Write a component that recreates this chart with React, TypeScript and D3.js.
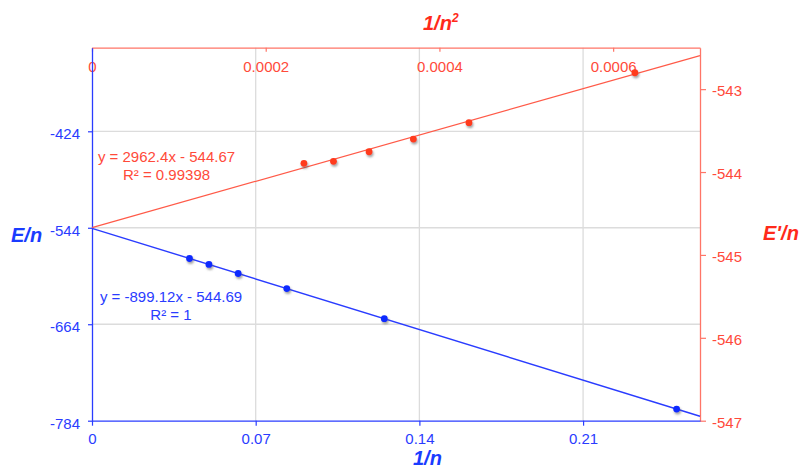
import React, { useEffect, useRef } from "react";
import * as d3 from "d3";

// E/n against 1/n (blue, bottom + left axes)
const invN = [0.0417, 0.05, 0.0625, 0.0833, 0.125, 0.25];
const eOverN = [-582.2, -589.6, -600.9, -619.6, -657.1, -769.5];

// E'/n against 1/n² (red, top + right axes)
const invN2 = [0.000244, 0.000278, 0.000319, 0.00037, 0.000434, 0.000625];
const ePrimeOverN = [-543.895, -543.871, -543.755, -543.602, -543.405, -542.802];

// Linear trend lines
const blueFit = { slope: -899.12, intercept: -544.69, r2: "1" };
const redFit = { slope: 2962.4, intercept: -544.67, r2: "0.99398" };

// Axis ticks
const bottomTicks = [0, 0.07, 0.14, 0.21];
const leftTicks = [-784, -664, -544, -424];
const topTicks = [0, 0.0002, 0.0004, 0.0006];
const rightTicks = [-547, -546, -545, -544, -543];

const W = 800;
const H = 469;
const X0 = 92;
const X1 = 700;
const Y0 = 420.7;
const Y1 = 47.7;

const BLUE = "#2a3cff";
const BLUE_DOT = "#0a2aff";
const RED = "#ff4a3a";
const RED_AXIS = "#ff7567";
const RED_DOT = "#ff3a1e";
const GRID = "#dcdcdc";
const FONT = "'Liberation Sans', Arial, Helvetica, sans-serif";

export default function App() {
  const ref = useRef<SVGSVGElement | null>(null);

  useEffect(() => {
    const svg = d3.select(ref.current);
    svg.selectAll("*").remove();

    const xBottom = d3.scaleLinear().domain([0, 0.26]).range([X0, X1]);
    const xTop = d3.scaleLinear().domain([0, 0.0007]).range([X0, X1]);
    const yLeft = d3.scaleLinear().domain([-784, -320]).range([Y0, Y1]);
    const yRight = d3.scaleLinear().domain([-547, -542.5]).range([Y0, Y1]);

    const defs = svg.append("defs");
    const f = defs
      .append("filter")
      .attr("id", "dotShadow")
      .attr("x", "-100%")
      .attr("y", "-100%")
      .attr("width", "300%")
      .attr("height", "300%");
    f.append("feDropShadow")
      .attr("dx", 1)
      .attr("dy", 2)
      .attr("stdDeviation", 1.3)
      .attr("flood-color", "#555")
      .attr("flood-opacity", 0.55);

    // grid
    const grid = svg.append("g");
    grid
      .selectAll("line.v")
      .data(bottomTicks.filter((d) => d !== 0))
      .join("line")
      .attr("x1", (d) => xBottom(d))
      .attr("x2", (d) => xBottom(d))
      .attr("y1", Y1)
      .attr("y2", Y0)
      .attr("stroke", GRID)
      .attr("stroke-width", 1.3);
    grid
      .selectAll("line.h")
      .data(leftTicks.filter((d) => d !== -784))
      .join("line")
      .attr("x1", X0)
      .attr("x2", X1)
      .attr("y1", (d) => yLeft(d))
      .attr("y2", (d) => yLeft(d))
      .attr("stroke", GRID)
      .attr("stroke-width", 1.3);

    const styleAxis = (g: any, color: string, lineColor: string) => {
      g.select(".domain").attr("stroke", lineColor).attr("stroke-width", 1.3);
      g.selectAll(".tick line").attr("stroke", lineColor).attr("stroke-width", 1.2);
      g.selectAll(".tick text")
        .attr("fill", color)
        .style("font-family", FONT)
        .style("font-size", "15px");
      g.attr("font-family", null).attr("font-size", null);
    };

    // top axis (labels sit inside the plot)
    const gTop = svg
      .append("g")
      .attr("transform", `translate(0,${Y1})`)
      .call(
        d3
          .axisBottom(xTop)
          .tickValues(topTicks)
          .tickSizeInner(4)
          .tickSizeOuter(0)
          .tickPadding(10)
          .tickFormat((d: any) => String(d))
      );
    styleAxis(gTop, RED, RED_AXIS);

    // right axis
    const gRight = svg
      .append("g")
      .attr("transform", `translate(${X1},0)`)
      .call(
        d3
          .axisRight(yRight)
          .tickValues(rightTicks)
          .tickSizeInner(6)
          .tickSizeOuter(0)
          .tickPadding(6)
          .tickFormat((d: any) => String(d))
      );
    styleAxis(gRight, RED, RED_AXIS);
    gRight.selectAll(".tick text").attr("dy", "0.42em");

    // bottom axis
    const gBottom = svg
      .append("g")
      .attr("transform", `translate(0,${Y0})`)
      .call(
        d3
          .axisBottom(xBottom)
          .tickValues(bottomTicks)
          .tickSizeInner(5)
          .tickSizeOuter(0)
          .tickPadding(8)
          .tickFormat((d: any) => String(d))
      );
    styleAxis(gBottom, BLUE, BLUE);

    // left axis
    const gLeft = svg
      .append("g")
      .attr("transform", `translate(${X0},0)`)
      .call(
        d3
          .axisLeft(yLeft)
          .tickValues(leftTicks)
          .tickSizeInner(4)
          .tickSizeOuter(0)
          .tickPadding(8)
          .tickFormat((d: any) => String(d))
      );
    styleAxis(gLeft, BLUE, BLUE);
    gLeft.selectAll(".tick text").attr("dy", "0.5em");

    // trend lines
    const redLine = d3
      .line<number>()
      .x((d) => xTop(d))
      .y((d) => yRight(redFit.slope * d + redFit.intercept));
    svg
      .append("path")
      .attr("d", redLine(xTop.domain()))
      .attr("fill", "none")
      .attr("stroke", "#ff5a48")
      .attr("stroke-width", 1.2);

    const blueLine = d3
      .line<number>()
      .x((d) => xBottom(d))
      .y((d) => yLeft(blueFit.slope * d + blueFit.intercept));
    svg
      .append("path")
      .attr("d", blueLine(xBottom.domain()))
      .attr("fill", "none")
      .attr("stroke", BLUE)
      .attr("stroke-width", 1.4);

    // data points
    svg
      .append("g")
      .selectAll("circle")
      .data(invN2.map((x, i) => [x, ePrimeOverN[i]]))
      .join("circle")
      .attr("cx", (d) => xTop(d[0]))
      .attr("cy", (d) => yRight(d[1]))
      .attr("r", 3.4)
      .attr("fill", RED_DOT)
      .attr("filter", "url(#dotShadow)");

    svg
      .append("g")
      .selectAll("circle")
      .data(invN.map((x, i) => [x, eOverN[i]]))
      .join("circle")
      .attr("cx", (d) => xBottom(d[0]))
      .attr("cy", (d) => yLeft(d[1]))
      .attr("r", 3.4)
      .attr("fill", BLUE_DOT)
      .attr("filter", "url(#dotShadow)");

    // trend line equations
    const eq = (x: number, y: number, color: string, l1: string, l2: string) => {
      const t = svg
        .append("text")
        .attr("x", x)
        .attr("y", y)
        .attr("text-anchor", "middle")
        .attr("fill", color)
        .style("font-family", FONT)
        .style("font-size", "15px");
      t.append("tspan").attr("x", x).text(l1);
      t.append("tspan").attr("x", x).attr("dy", 18).text(l2);
    };
    const fmtEq = (fit: { slope: number; intercept: number }) =>
      `y = ${fit.slope}x ${fit.intercept < 0 ? "-" : "+"} ${Math.abs(fit.intercept)}`;
    eq(166.5, 162, RED, fmtEq(redFit), `R² = ${redFit.r2}`);
    eq(171, 302, BLUE, fmtEq(blueFit), `R² = ${blueFit.r2}`);

    // axis titles
    const title = (x: number, y: number, color: string) =>
      svg
        .append("text")
        .attr("x", x)
        .attr("y", y)
        .attr("fill", color)
        .style("font-family", FONT)
        .style("font-size", "20px")
        .style("font-weight", "bold")
        .style("font-style", "italic");
    title(11, 242, "#1a3cff").text("E/n");
    title(763, 240, "#ff2a1a").text("E'/n");
    title(413, 465, "#1a3cff").text("1/n");
    const t2 = title(423, 29.5, "#ff2a1a");
    t2.append("tspan").text("1/n");
    t2.append("tspan").attr("dy", -8).style("font-size", "12px").text("2");
  }, []);

  return (
    <svg
      ref={ref}
      width={W}
      height={H}
      style={{ position: "absolute", left: 0, top: 0, background: "#fff" }}
    />
  );
}
